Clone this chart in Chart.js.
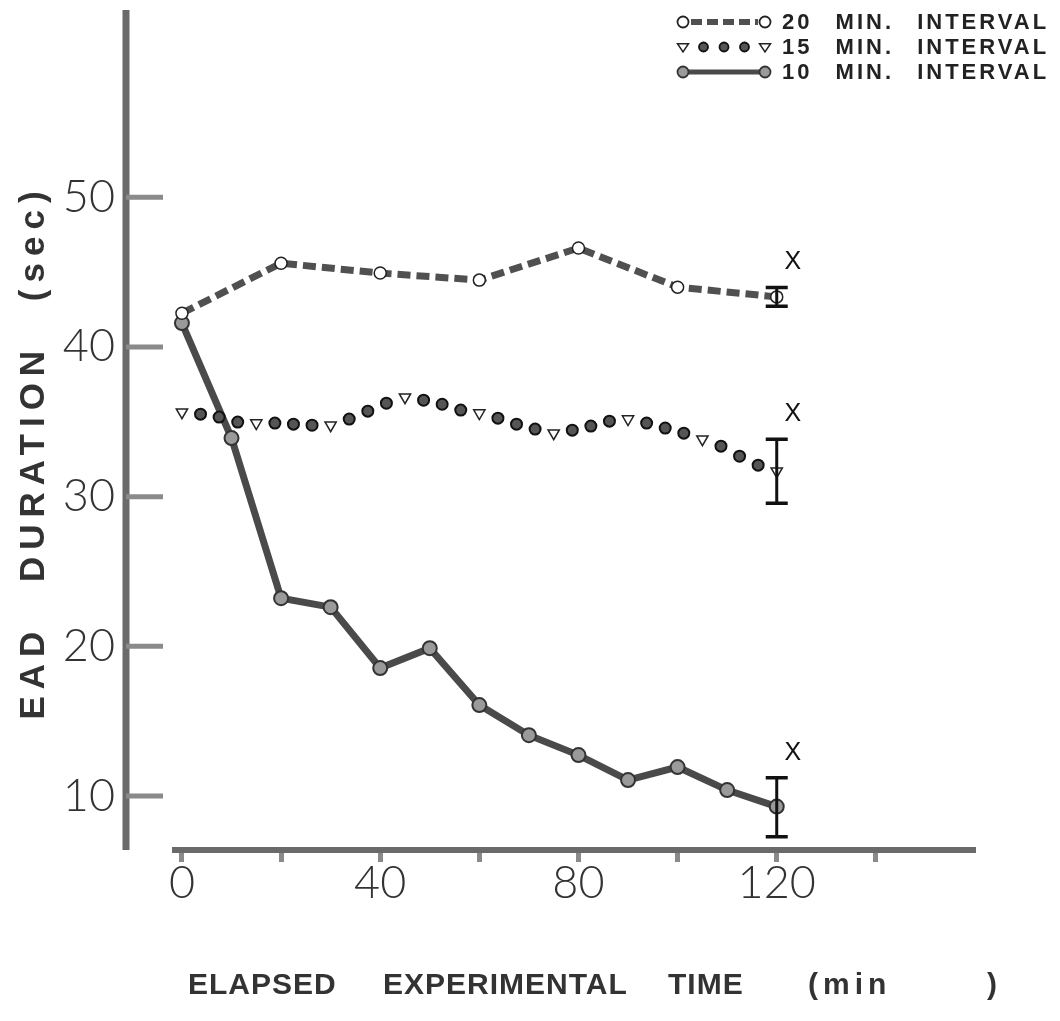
<!DOCTYPE html>
<html><head><meta charset="utf-8">
<script src="https://cdn.jsdelivr.net/npm/chart.js@4.4.1/dist/chart.umd.min.js"></script>
<style>html,body{margin:0;padding:0;background:#fff}#wrap{width:1060px;height:1021px}</style>
</head><body><div id="wrap"><canvas id="c" width="1060" height="1021"></canvas></div>
<script>
// ---- tick values / labels ----
const xTickValues = [0, 20, 40, 60, 80, 100, 120, 140];
const xTickLabels = ['0', '', '40', '', '80', '', '120', ''];
const yTickValues = [10, 20, 30, 40, 50];
const yTickLabels = ['10', '20', '30', '40', '50'];

// ---- series ----
const seriesLabels = ['20 MIN. INTERVAL', '15 MIN. INTERVAL', '10 MIN. INTERVAL'];
const t20 = [0, 20, 40, 60, 80, 100, 120];
const v20 = [42.25, 45.59, 44.93, 44.46, 46.60, 43.99, 43.34];
const t15 = [0, 15, 30, 45, 60, 75, 90, 105, 120];
const v15 = [35.64, 34.91, 34.77, 36.64, 35.58, 34.24, 35.18, 33.84, 31.70];
const t15dots = [3.75, 7.5, 11.25, 18.75, 22.5, 26.25, 33.75, 37.5, 41.25, 48.75, 52.5, 56.25,
                 63.75, 67.5, 71.25, 78.75, 82.5, 86.25, 93.75, 97.5, 101.25, 108.75, 112.5, 116.25];
const v15dots = [35.51, 35.31, 34.98, 34.91, 34.84, 34.77, 35.18, 35.71, 36.24, 36.44, 36.17, 35.78,
                 35.24, 34.84, 34.51, 34.44, 34.71, 35.04, 34.91, 34.58, 34.24, 33.37, 32.70, 32.10];
const t10 = [0, 10, 20, 30, 40, 50, 60, 70, 80, 90, 100, 110, 120];
const v10 = [41.59, 33.91, 23.22, 22.62, 18.55, 19.88, 16.08, 14.07, 12.74, 11.07, 11.94, 10.40, 9.30];

// ---- error bars at the last time point ----
const errTime = 120;
const errMean = [43.34, 31.70, 9.25];
const errHalf = [0.63, 2.14, 1.97];
const sigMarks = ['X', 'X', 'X'];

// ---- axis titles ----
const yTitle = 'EAD DURATION (sec)';
const xTitle = 'ELAPSED EXPERIMENTAL TIME (min )';

const toXY = (ts, vs) => ts.map((t, i) => ({x: t, y: vs[i]}));

const yAxisPlugin = {
  id: 'yAxisLine',
  beforeDatasetsDraw(chart) {
    const {ctx, chartArea: a, scales: {y}} = chart;
    const ax = a.left - 49;
    ctx.save();
    ctx.strokeStyle = '#6a6a6a'; ctx.lineWidth = 7;
    ctx.beginPath(); ctx.moveTo(ax, a.top); ctx.lineTo(ax, a.bottom); ctx.stroke();
    ctx.strokeStyle = '#8a8a8a'; ctx.lineWidth = 5;
    yTickValues.forEach(v => {
      const py = y.getPixelForValue(v);
      ctx.beginPath(); ctx.moveTo(ax, py); ctx.lineTo(ax + 37, py); ctx.stroke();
    });
    ctx.restore();
  }
};

const errorBarsPlugin = {
  id: 'errorBars',
  afterDatasetsDraw(chart) {
    const {ctx, scales: {x, y}} = chart;
    ctx.save();
    errMean.forEach((m, i) => {
      const px = x.getPixelForValue(errTime);
      const top = y.getPixelForValue(m + errHalf[i]);
      const bot = y.getPixelForValue(m - errHalf[i]);
      ctx.strokeStyle = '#111'; ctx.lineWidth = 3;
      ctx.beginPath(); ctx.moveTo(px, top); ctx.lineTo(px, bot); ctx.stroke();
      ctx.lineWidth = 3.5;
      ctx.beginPath();
      ctx.moveTo(px - 11, top); ctx.lineTo(px + 11, top);
      ctx.moveTo(px - 11, bot); ctx.lineTo(px + 11, bot);
      ctx.stroke();
      ctx.fillStyle = '#111'; ctx.font = '25px "Liberation Sans"';
      ctx.textAlign = 'center'; ctx.textBaseline = 'middle';
      ctx.fillText(sigMarks[i], px + 16, top - 25);
    });
    ctx.restore();
  }
};

function drawTri(ctx, x, y, r) {
  ctx.beginPath();
  ctx.moveTo(x - r, y - r * 0.6); ctx.lineTo(x + r, y - r * 0.6); ctx.lineTo(x, y + r * 0.9);
  ctx.closePath(); ctx.fillStyle = '#fff'; ctx.fill(); ctx.strokeStyle = '#222'; ctx.lineWidth = 1.5; ctx.stroke();
}
function drawDot(ctx, x, y, r, fill, stroke) {
  ctx.beginPath(); ctx.arc(x, y, r, 0, Math.PI * 2);
  ctx.fillStyle = fill; ctx.fill(); ctx.strokeStyle = stroke; ctx.lineWidth = 1.8; ctx.stroke();
}

const textPlugin = {
  id: 'texts',
  afterDraw(chart) {
    const {ctx, chartArea: a} = chart;
    ctx.save();
    // legend
    const lx0 = a.right - 292, lx1 = lx0 + 82, tx = lx0 + 99;
    const rows = [a.top + 12, a.top + 37, a.top + 62];
    ctx.strokeStyle = '#505050'; ctx.lineWidth = 6; ctx.setLineDash([11, 5]);
    ctx.beginPath(); ctx.moveTo(lx0 + 8, rows[0]); ctx.lineTo(lx1 - 7, rows[0]); ctx.stroke();
    ctx.setLineDash([]);
    drawDot(ctx, lx0, rows[0], 5.5, '#fff', '#222');
    drawDot(ctx, lx1, rows[0], 5.5, '#fff', '#222');
    drawTri(ctx, lx0, rows[1], 5.5); drawTri(ctx, lx1, rows[1], 5.5);
    [0.25, 0.5, 0.75].forEach(f => drawDot(ctx, lx0 + (lx1 - lx0) * f, rows[1], 4.5, '#555', '#111'));
    ctx.strokeStyle = '#4a4a4a'; ctx.lineWidth = 5;
    ctx.beginPath(); ctx.moveTo(lx0, rows[2]); ctx.lineTo(lx1, rows[2]); ctx.stroke();
    drawDot(ctx, lx0, rows[2], 5.5, '#9a9a9a', '#333');
    drawDot(ctx, lx1, rows[2], 5.5, '#9a9a9a', '#333');
    ctx.fillStyle = '#222'; ctx.font = 'bold 22px "Liberation Sans"';
    ctx.textAlign = 'left'; ctx.textBaseline = 'middle';
    ctx.letterSpacing = '3px'; ctx.wordSpacing = '14px';
    seriesLabels.forEach((s, i) => ctx.fillText(s, tx, rows[i] + 1));
    // x title, word by word
    const words = xTitle.split(' ');
    const offs = [13, 208, 493, 633, 812];
    ctx.font = 'bold 30px "Liberation Sans"';
    ctx.wordSpacing = '0px'; ctx.fillStyle = '#333';
    words.forEach((w, i) => {
      ctx.letterSpacing = (i >= 3) ? '5px' : '1px';
      ctx.fillText(w, a.left + offs[i], a.bottom + 136);
    });
    // y title
    ctx.translate(34, 452); ctx.rotate(-Math.PI / 2);
    ctx.textAlign = 'center';
    ctx.font = 'bold 35px "Liberation Sans"';
    ctx.letterSpacing = '7px'; ctx.wordSpacing = '26px';
    ctx.fillText(yTitle, 0, 0);
    ctx.restore();
  }
};

new Chart(document.getElementById('c').getContext('2d'), {
  type: 'scatter',
  data: {datasets: [
    {label: seriesLabels[0], data: toXY(t20, v20), showLine: true, borderColor: '#505050', borderWidth: 7,
     borderDash: [13, 6], pointRadius: 6, pointBackgroundColor: '#fff', pointBorderColor: '#222',
     pointBorderWidth: 1.5, tension: 0, clip: false},
    {label: seriesLabels[1], data: toXY(t15, v15), showLine: false, pointStyle: 'triangle', rotation: 180,
     pointRadius: 6.5, pointBackgroundColor: '#fff', pointBorderColor: '#222', pointBorderWidth: 1.5, clip: false},
    {label: seriesLabels[1] + ' (dots)', data: toXY(t15dots, v15dots), showLine: false, pointRadius: 5.5,
     pointBackgroundColor: '#555', pointBorderColor: '#111', pointBorderWidth: 2, clip: false},
    {label: seriesLabels[2], data: toXY(t10, v10), showLine: true, borderColor: '#4a4a4a', borderWidth: 7,
     pointRadius: 7, pointBackgroundColor: '#9a9a9a', pointBorderColor: '#333', pointBorderWidth: 2,
     tension: 0, clip: false}
  ]},
  options: {
    responsive: false, animation: false, devicePixelRatio: 1,
    layout: {padding: {left: 0, top: 10, right: 85, bottom: 0}},
    plugins: {legend: {display: false}, tooltip: {enabled: false}, title: {display: false}},
    scales: {
      x: {
        type: 'linear', min: -1.4, max: 160, position: 'bottom',
        afterBuildTicks(s) { s.ticks = xTickValues.map(v => ({value: v})); },
        afterFit(s) { s.height = 171; s.paddingLeft = 0; s.paddingRight = 0; },
        grid: {drawOnChartArea: false, drawTicks: true, tickLength: 12, tickWidth: 5, tickColor: '#8a8a8a'},
        border: {display: true, color: '#6a6a6a', width: 6},
        ticks: {autoSkip: false, maxRotation: 0, padding: -6, color: '#333',
                font: {family: 'Lato', size: 45, weight: '300'},
                callback: (v, i) => xTickLabels[i]}
      },
      y: {
        type: 'linear', min: 6.4, max: 62.5, position: 'left',
        afterBuildTicks(s) { s.ticks = yTickValues.map(v => ({value: v})); },
        afterFit(s) { s.width = 175; s.paddingTop = 0; s.paddingBottom = 0; },
        grid: {display: true, drawOnChartArea: false, drawTicks: true, tickLength: 58, tickColor: 'rgba(0,0,0,0)'},
        border: {display: false},
        ticks: {padding: 2, color: '#333', font: {family: 'Lato', size: 45, weight: '300'},
                callback: (v, i) => yTickLabels[i]}
      }
    }
  },
  plugins: [yAxisPlugin, errorBarsPlugin, textPlugin]
});
</script>
</body></html>
